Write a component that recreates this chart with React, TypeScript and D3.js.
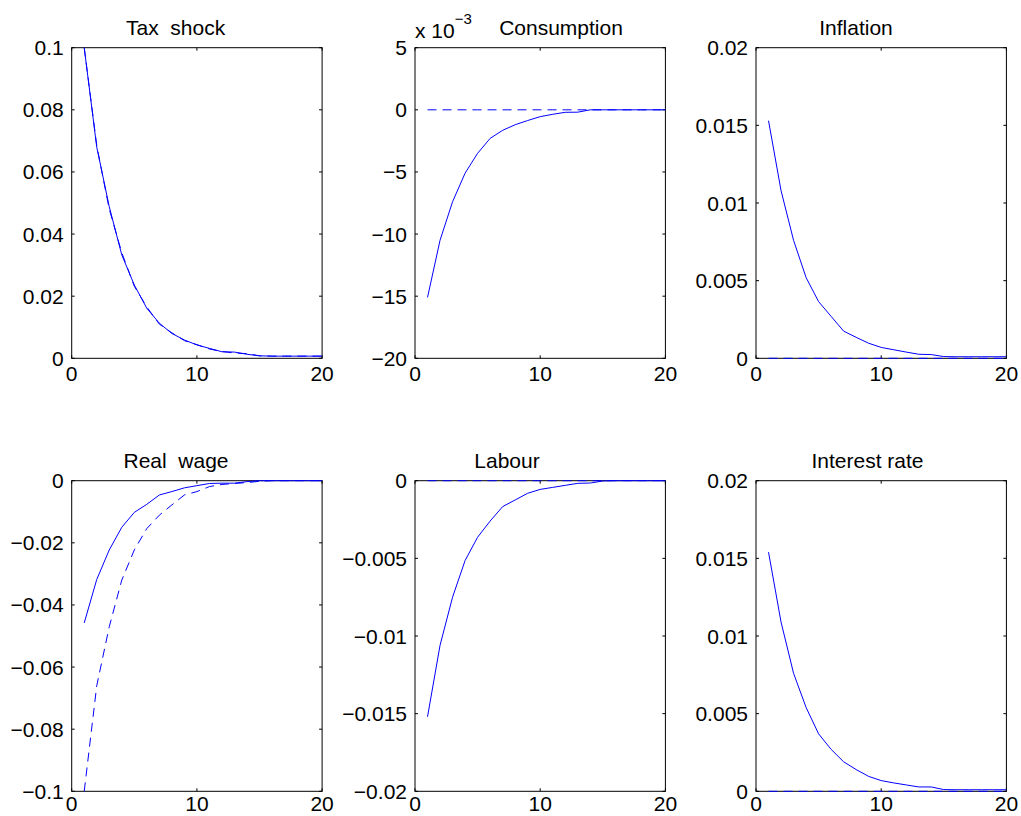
import React from "react";
import * as d3 from "d3";

const periods = [1, 2, 3, 4, 5, 6, 7, 8, 9, 10, 11, 12, 13, 14, 15, 16, 17, 18, 19, 20];

const taxSolid = [0.1, 0.068, 0.0488, 0.0333, 0.0236, 0.0161, 0.0113, 0.008, 0.0059, 0.0043, 0.0032, 0.0021, 0.002, 0.0013, 0.0008, 0.0007, 0.0007, 0.0007, 0.0007, 0.0007];
const taxDashed = [0.1, 0.0685, 0.048, 0.034, 0.0232, 0.0165, 0.011, 0.0082, 0.0057, 0.0044, 0.003, 0.0022, 0.0017, 0.0015, 0.0008, 0.0007, 0.0007, 0.0007, 0.0007, 0.0007];

const consSolid = [-15.1, -10.5, -7.4, -5.1, -3.5, -2.3, -1.65, -1.2, -0.86, -0.55, -0.36, -0.2, -0.19, 0, 0, 0, 0, 0, 0, 0];
const consDashed = [0, 0, 0, 0, 0, 0, 0, 0, 0, 0, 0, 0, 0, 0, 0, 0, 0, 0, 0, 0];

const inflSolid = [0.0153, 0.0108, 0.0076, 0.0052, 0.00365, 0.0027, 0.00175, 0.00135, 0.00097, 0.0007, 0.00055, 0.0004, 0.00026, 0.00024, 0.00011, 0.0001, 0.0001, 0.0001, 0.0001, 0.0001];
const inflDashed = [0, 0, 0, 0, 0, 0, 0, 0, 0, 0, 0, 0, 0, 0, 0, 0, 0, 0, 0, 0];

const wageSolid = [-0.0458, -0.0318, -0.0223, -0.015, -0.0102, -0.0076, -0.0046, -0.0035, -0.0023, -0.0016, -0.0009, -0.0008, -0.0008, -0.0003, 0, 0, 0, 0, 0, 0];
const wageDashed = [-0.1, -0.066, -0.047, -0.032, -0.0223, -0.0154, -0.0111, -0.0078, -0.0046, -0.0035, -0.0019, -0.0012, -0.0009, -0.0006, -0.0002, 0, 0, 0, 0, 0];

const labSolid = [-0.0152, -0.0106, -0.0075, -0.00514, -0.00364, -0.0026, -0.00167, -0.00124, -0.00081, -0.00056, -0.00043, -0.0003, -0.00017, -0.00015, -0.00002, 0, 0, 0, 0, 0];
const labDashed = [0, 0, 0, 0, 0, 0, 0, 0, 0, 0, 0, 0, 0, 0, 0, 0, 0, 0, 0, 0];

const rateSolid = [0.0154, 0.0109, 0.0076, 0.0054, 0.0037, 0.0027, 0.0019, 0.0014, 0.00096, 0.00069, 0.00054, 0.00041, 0.00028, 0.00028, 0.00011, 0.0001, 0.0001, 0.0001, 0.0001, 0.0001];
const rateDashed = [0, 0, 0, 0, 0, 0, 0, 0, 0, 0, 0, 0, 0, 0, 0, 0, 0, 0, 0, 0];

const xTicks = [0, 10, 20];
const xTickLabels = ["0", "10", "20"];

const titles = ["Tax  shock", "Consumption", "Inflation", "Real  wage", "Labour", "Interest rate"];

const taxTicks = [0, 0.02, 0.04, 0.06, 0.08, 0.1];
const taxTickLabels = ["0", "0.02", "0.04", "0.06", "0.08", "0.1"];
const consTicks = [-20, -15, -10, -5, 0, 5];
const consTickLabels = ["\u221220", "\u221215", "\u221210", "\u22125", "0", "5"];
const inflTicks = [0, 0.005, 0.01, 0.015, 0.02];
const inflTickLabels = ["0", "0.005", "0.01", "0.015", "0.02"];
const wageTicks = [-0.1, -0.08, -0.06, -0.04, -0.02, 0];
const wageTickLabels = ["\u22120.1", "\u22120.08", "\u22120.06", "\u22120.04", "\u22120.02", "0"];
const labTicks = [-0.02, -0.015, -0.01, -0.005, 0];
const labTickLabels = ["\u22120.02", "\u22120.015", "\u22120.01", "\u22120.005", "0"];
const rateTicks = [0, 0.005, 0.01, 0.015, 0.02];
const rateTickLabels = ["0", "0.005", "0.01", "0.015", "0.02"];

const FONT = "'Liberation Sans', Arial, Helvetica, sans-serif";
const BLUE = "#0000ff";

type PanelSpec = {
  title: string;
  titleX: number;
  left: number;
  top: number;
  xLabelOffset: number;
  yDomain: [number, number];
  yTicks: number[];
  yTickLabels: string[];
  solid: number[];
  dashed: number[];
  exponent?: boolean;
};

const colLefts = [71.7, 415, 756];
const rowTops = [47.7, 480.7];
const rowXLabelOffsets = [23, 20];
const W = 250.4;
const H = 310.6;
const titleXs = [175.6, 561, 856, 176, 507, 867.5];

const panels: PanelSpec[] = [
  { title: titles[0], titleX: titleXs[0], left: colLefts[0], top: rowTops[0], xLabelOffset: rowXLabelOffsets[0], yDomain: [0, 0.1], yTicks: taxTicks, yTickLabels: taxTickLabels, solid: taxSolid, dashed: taxDashed },
  { title: titles[1], titleX: titleXs[1], left: colLefts[1], top: rowTops[0], xLabelOffset: rowXLabelOffsets[0], yDomain: [-20, 5], yTicks: consTicks, yTickLabels: consTickLabels, solid: consSolid, dashed: consDashed, exponent: true },
  { title: titles[2], titleX: titleXs[2], left: colLefts[2], top: rowTops[0], xLabelOffset: rowXLabelOffsets[0], yDomain: [0, 0.02], yTicks: inflTicks, yTickLabels: inflTickLabels, solid: inflSolid, dashed: inflDashed },
  { title: titles[3], titleX: titleXs[3], left: colLefts[0], top: rowTops[1], xLabelOffset: rowXLabelOffsets[1], yDomain: [-0.1, 0], yTicks: wageTicks, yTickLabels: wageTickLabels, solid: wageSolid, dashed: wageDashed },
  { title: titles[4], titleX: titleXs[4], left: colLefts[1], top: rowTops[1], xLabelOffset: rowXLabelOffsets[1], yDomain: [-0.02, 0], yTicks: labTicks, yTickLabels: labTickLabels, solid: labSolid, dashed: labDashed },
  { title: titles[5], titleX: titleXs[5], left: colLefts[2], top: rowTops[1], xLabelOffset: rowXLabelOffsets[1], yDomain: [0, 0.02], yTicks: rateTicks, yTickLabels: rateTickLabels, solid: rateSolid, dashed: rateDashed },
];

function Panel({ p }: { p: PanelSpec }) {
  const x = d3.scaleLinear().domain([0, 20]).range([p.left, p.left + W]);
  const y = d3.scaleLinear().domain(p.yDomain).range([p.top + H, p.top]);
  const line = d3
    .line<number>()
    .x((_, i) => x(periods[i]))
    .y((v) => y(v));
  const tl = 3;
  const bottom = p.top + H;
  const right = p.left + W;
  return (
    <g>
      <rect x={p.left} y={p.top} width={W} height={H} fill="none" stroke="#000" strokeWidth={1} />
      {xTicks.map((t, i) => (
        <g key={"x" + i}>
          <line x1={x(t)} x2={x(t)} y1={bottom} y2={bottom - tl} stroke="#000" />
          <line x1={x(t)} x2={x(t)} y1={p.top} y2={p.top + tl} stroke="#000" />
          <text x={x(t)} y={bottom + p.xLabelOffset} textAnchor="middle" fontSize={21} fontFamily={FONT} fill="#000">
            {xTickLabels[i]}
          </text>
        </g>
      ))}
      {p.yTicks.map((t, i) => (
        <g key={"y" + i}>
          <line x1={p.left} x2={p.left + tl} y1={y(t)} y2={y(t)} stroke="#000" />
          <line x1={right} x2={right - tl} y1={y(t)} y2={y(t)} stroke="#000" />
          <text x={p.left - 8} y={y(t) + 7.5} textAnchor="end" fontSize={21} fontFamily={FONT} fill="#000">
            {p.yTickLabels[i]}
          </text>
        </g>
      ))}
      <path d={line(p.dashed) || ""} fill="none" stroke={BLUE} strokeWidth={1} strokeDasharray="9,6" />
      <path d={line(p.solid) || ""} fill="none" stroke={BLUE} strokeWidth={1} />
      <text x={p.titleX} y={p.top - 13} textAnchor="middle" fontSize={21} fontFamily={FONT} fill="#000" style={{ whiteSpace: "pre" }}>
        {p.title}
      </text>
      {p.exponent && (
        <text x={p.left} y={p.top - 10} fontSize={21} fontFamily={FONT} fill="#000" style={{ whiteSpace: "pre" }}>
          {"x 10"}
          <tspan dy={-14} fontSize={15}>
            {"\u22123"}
          </tspan>
        </text>
      )}
    </g>
  );
}

export default function App() {
  return (
    <svg
      width={1021}
      height={816}
      style={{ position: "absolute", left: 0, top: 0, background: "#fff" }}
    >
      <rect x={0} y={0} width={1021} height={816} fill="#fff" />
      {panels.map((p, i) => (
        <Panel key={i} p={p} />
      ))}
    </svg>
  );
}
